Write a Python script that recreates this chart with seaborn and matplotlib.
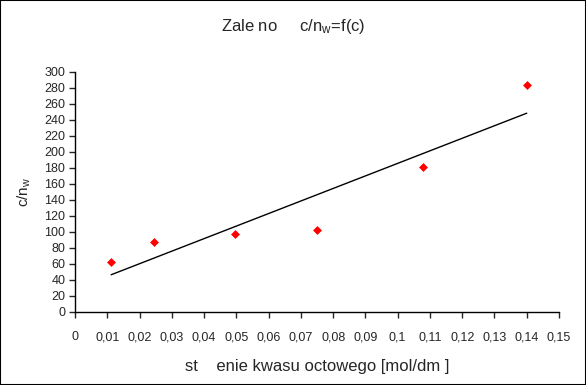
import numpy as np
import pandas as pd
import matplotlib
matplotlib.use("Agg")
import matplotlib.pyplot as plt
import seaborn as sns
from matplotlib.patches import Rectangle

# data
conc = [0.0112, 0.0245, 0.0497, 0.075, 0.1078, 0.140]
c_nw = [62, 87, 98, 102, 181, 284]

x_ticks = [0, 0.01, 0.02, 0.03, 0.04, 0.05, 0.06, 0.07, 0.08, 0.09, 0.1,
           0.11, 0.12, 0.13, 0.14, 0.15]
x_labels = ["0", "0,01", "0,02", "0,03", "0,04", "0,05", "0,06", "0,07",
            "0,08", "0,09", "0,1", "0,11", "0,12", "0,13", "0,14", "0,15"]
y_ticks = list(range(0, 301, 20))

df = pd.DataFrame({"c": conc, "cnw": c_nw})

sns.set_style("white")
plt.rcParams["font.family"] = ["Liberation Sans", "DejaVu Sans"]
plt.rcParams["mathtext.fontset"] = "custom"
plt.rcParams["mathtext.rm"] = "Liberation Sans"
plt.rcParams["mathtext.default"] = "regular"

fig = plt.figure(figsize=(5.86, 3.85), dpi=100)
ax = fig.add_axes([75 / 586, 1 - 312 / 385, (559 - 75) / 586, (312 - 72) / 385])

sns.regplot(data=df, x="c", y="cnw", ax=ax, scatter=False, ci=None,
            line_kws={"color": "black", "linewidth": 1})
sns.scatterplot(data=df, x="c", y="cnw", ax=ax, marker="D", s=16,
                color="red", edgecolor="red", linewidth=0.5, zorder=3)

ax.set_xlim(0, 0.15)
ax.set_ylim(0, 300)
ax.set_xticks(x_ticks)
ax.set_xticklabels(x_labels)
ax.set_yticks(y_ticks)
ax.tick_params(axis="x", direction="out", length=4, width=1, pad=10,
               labelsize=9, bottom=True)
ax.tick_params(axis="y", direction="out", length=4, width=1, pad=3,
               labelsize=9, left=True)
for s in ["top", "right"]:
    ax.spines[s].set_visible(False)
for s in ["left", "bottom"]:
    ax.spines[s].set_color("black")
    ax.spines[s].set_linewidth(1)

ax.set_xlabel("st    enie kwasu octowego [mol/dm ]", fontsize=12, labelpad=11)
ax.set_ylabel("c/n$_w$", fontsize=11, labelpad=8)
fig.text(0.5, 1 - 27 / 385, "Zale no     c/n$_w$=f(c)", ha="center",
         va="center", fontsize=12)

fig.patches.append(Rectangle((0, 0), 1, 1, transform=fig.transFigure,
                             fill=False, edgecolor="black", linewidth=1.5))

fig.savefig("out.png", dpi=100)
